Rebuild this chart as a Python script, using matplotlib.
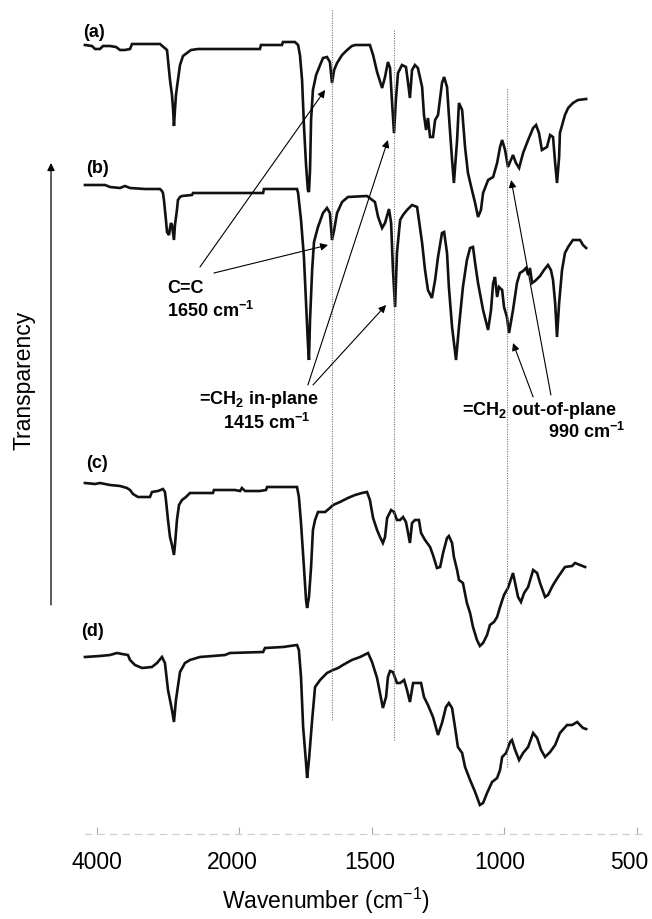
import numpy as np
import matplotlib
matplotlib.use("Agg")
import matplotlib.pyplot as plt
from matplotlib.transforms import ScaledTranslation

plt.rcParams['font.family'] = ['Liberation Sans', 'DejaVu Sans']
plt.rcParams['mathtext.default'] = 'regular'

# FTIR spectra: wavenumber (cm-1) and transmittance (%T), one pair per sample
wn_a = [4170, 4070, 4028, 3958, 3916, 3817, 3732, 3676, 3606, 3535, 3507, 3113, 3014, 2972, 2944, 2930, 2916,
        2902, 2888, 2860, 2831, 2789, 2733, 2676, 2578, 1921, 1917, 1838, 1834, 1789, 1777, 1770, 1762, 1755,
        1747, 1740, 1736, 1732, 1728, 1721, 1709, 1694, 1683, 1668, 1657, 1649, 1641, 1630, 1611, 1592, 1574,
        1562, 1506, 1494, 1479, 1460, 1449, 1438, 1430, 1423, 1415, 1408, 1400, 1385, 1370, 1362, 1355, 1347,
        1336, 1325, 1309, 1302, 1294, 1287, 1279, 1268, 1260, 1249, 1234, 1226, 1215, 1208, 1196, 1189, 1177,
        1170, 1158, 1147, 1136, 1121, 1109, 1098, 1087, 1079, 1060, 1041, 1026, 1015, 1007, 996, 985, 966, 955,
        943, 928, 909, 890, 879, 868, 857, 838, 826, 815, 807, 800, 792, 789, 770, 758, 740, 721, 690]
tr_a = [94.5, 94, 92.5, 92.5, 94, 94, 93.5, 92, 92, 92.5, 95, 95, 92, 77, 69.5, 63, 54, 62, 69.5, 77, 84.5, 89,
        90.5, 92, 92.5, 92.5, 94.5, 94.5, 96, 96, 94.5, 89.5, 77, 54.5, 34.5, 22, 21, 32, 57, 72, 79.5, 84.5, 88,
        88.5, 86, 75.5, 82, 85.5, 89.5, 92, 94, 94.5, 94.5, 89.5, 81, 73, 78.5, 86, 83, 67, 50.5, 67, 80.5, 84.5,
        83.5, 75.5, 68, 82, 84.5, 83, 73.5, 59.5, 52, 58, 48.5, 48.5, 57, 59.5, 75.5, 78.5, 73.5, 59.5, 37, 25.5,
        47, 65.5, 62, 43.5, 30.5, 22, 15.5, 8.5, 12, 20.5, 27, 28.5, 35.5, 43.5, 47, 42, 33.5, 39.5, 35.5, 33,
        40.5, 47, 53, 54.5, 50.5, 42, 43.5, 49.5, 48.5, 35.5, 25.5, 38.5, 50.5, 59.5, 63, 65.5, 67, 67.5]

wn_b = [4170, 3887, 3817, 3676, 3606, 3535, 3324, 3113, 3085, 3071, 3057, 3029, 3014, 2986, 2972, 2958, 2944,
        2916, 2902, 2874, 2860, 2831, 2803, 2662, 2648, 1909, 1906, 1781, 1777, 1766, 1755, 1747, 1740, 1736,
        1732, 1724, 1717, 1702, 1683, 1668, 1657, 1649, 1641, 1630, 1611, 1589, 1517, 1487, 1475, 1460, 1449,
        1434, 1426, 1419, 1411, 1404, 1392, 1381, 1366, 1347, 1328, 1321, 1309, 1298, 1287, 1272, 1260, 1249,
        1234, 1226, 1215, 1208, 1196, 1181, 1170, 1155, 1140, 1128, 1117, 1109, 1098, 1079, 1060, 1049, 1041,
        1034, 1026, 1019, 1007, 1000, 989, 981, 966, 951, 940, 928, 917, 909, 902, 894, 883, 864, 849, 834, 823,
        815, 807, 800, 792, 781, 770, 758, 740, 713, 702, 690]
tr_b = [99.5, 99.5, 98.5, 98, 99, 98, 97.5, 97.5, 96.5, 95.5, 92, 82, 76, 74.5, 78, 80.5, 79.5, 72, 79.5, 87, 92,
        93.5, 94, 94.5, 95.5, 95.5, 97.5, 97.5, 95.5, 82, 63.5, 40.5, 20.5, 12, 32, 57, 71, 78.5, 85.5, 88, 85.5,
        72, 77, 85.5, 91, 93.5, 94, 91, 83.5, 78, 80.5, 87.5, 80.5, 57, 38.5, 65.5, 82, 84.5, 87, 89.5, 88.5, 82,
        70.5, 57, 47, 43, 52, 63.5, 75.5, 76, 65.5, 48.5, 28.5, 12, 28.5, 48.5, 62, 68, 68.5, 60.5, 50.5, 37, 27,
        37, 50.5, 53.5, 43.5, 48.5, 47, 38.5, 33.5, 25.5, 37, 50.5, 55.5, 56.5, 58, 54.5, 58, 50.5, 51.5, 54, 57,
        59.5, 57, 52, 40.5, 23.5, 40.5, 57, 65.5, 68.5, 72, 72, 69.5, 68]

wn_c = [4170, 4028, 3958, 3817, 3676, 3578, 3535, 3493, 3423, 3254, 3226, 3141, 3071, 3043, 3029, 3000, 2972,
        2944, 2916, 2902, 2874, 2845, 2803, 2747, 2691, 2367, 2353, 2057, 1996, 1989, 1977, 1921, 1898, 1894,
        1781, 1774, 1766, 1755, 1747, 1743, 1736, 1728, 1721, 1713, 1702, 1675, 1657, 1645, 1619, 1589, 1562,
        1536, 1517, 1506, 1494, 1479, 1468, 1457, 1449, 1441, 1426, 1415, 1404, 1392, 1381, 1370, 1362, 1355,
        1347, 1336, 1321, 1313, 1298, 1279, 1268, 1253, 1241, 1230, 1215, 1208, 1196, 1189, 1177, 1170, 1155,
        1140, 1128, 1117, 1102, 1091, 1079, 1064, 1053, 1038, 1026, 1015, 1000, 985, 966, 958, 947, 936, 924,
        909, 890, 875, 864, 845, 834, 815, 796, 770, 743, 732, 713, 694]
tr_c = [95.5, 95, 95.5, 94.5, 94, 93, 92, 90, 88.5, 88.5, 91, 91.5, 92.5, 91, 87, 77, 68.5, 64.5, 59.5, 64.5, 77,
        84.5, 87, 88.5, 90.5, 90.5, 92, 92, 91.5, 93, 91.5, 91.5, 92, 93.5, 93.5, 88.5, 75.5, 53.5, 37, 33, 38.5,
        53.5, 72, 77, 81, 81, 83, 84.5, 86, 88, 89.5, 90.5, 91, 87, 78, 72, 68.5, 65.5, 68.5, 78, 82, 81, 77, 77,
        78.5, 76, 70.5, 65.5, 75.5, 77, 77, 70.5, 67, 63.5, 59.5, 53, 53.5, 60.5, 68, 69, 65.5, 58.5, 52, 47,
        45.5, 35.5, 30.5, 23.5, 17, 14, 15.5, 19.5, 24.5, 26, 28.5, 33.5, 39.5, 43, 50.5, 45.5, 38.5, 36, 40.5,
        43.5, 52, 50.5, 45.5, 38.5, 39.5, 44.5, 48.5, 53.5, 54, 55.5, 54.5, 53.5]

wn_d = [4170, 3958, 3817, 3718, 3648, 3564, 3535, 3465, 3366, 3226, 3155, 3085, 3043, 3000, 2972, 2944, 2916,
        2888, 2831, 2761, 2691, 2550, 2198, 2127, 1909, 1902, 1834, 1781, 1774, 1766, 1758, 1747, 1743, 1736,
        1724, 1713, 1694, 1668, 1645, 1626, 1608, 1574, 1543, 1513, 1498, 1479, 1468, 1457, 1445, 1438, 1430,
        1419, 1404, 1392, 1377, 1366, 1355, 1343, 1325, 1313, 1302, 1287, 1268, 1249, 1234, 1219, 1208, 1196,
        1185, 1174, 1158, 1147, 1128, 1109, 1091, 1079, 1064, 1045, 1026, 1015, 1007, 992, 977, 970, 958, 943,
        928, 909, 890, 875, 860, 845, 826, 807, 789, 762, 743, 724, 713, 702, 690]
tr_d = [83.5, 84, 84.5, 85.5, 85, 84.5, 82, 79.5, 78, 78.5, 80.5, 83.5, 80.5, 67, 62, 57, 51, 62, 76, 80.5, 82,
        83.5, 84.5, 85.5, 86, 88, 88.5, 89.5, 87, 73.5, 48.5, 30.5, 23, 32, 52, 68.5, 72, 75.5, 77, 78, 79.5, 82,
        83.5, 85.5, 81, 73, 65.5, 58, 63.5, 73.5, 76.5, 76, 70.5, 70.5, 72, 67, 61, 70.5, 70.5, 70.5, 63.5, 59.5,
        53.5, 44.5, 50.5, 58.5, 60.5, 58, 48.5, 38.5, 35.5, 28.5, 22, 16, 9.5, 10.5, 15.5, 21, 23, 27, 33.5, 35.5,
        41, 42, 37, 32, 35.5, 38.5, 45.5, 43, 37, 33.5, 36, 39.5, 45.5, 49.5, 49.5, 51, 49.5, 48, 47.5]

sample_labels = ["(a)", "(b)", "(c)", "(d)"]
offsets = [295, 220, 75, 0]          # vertical stacking of the four traces

tick_values = [4000, 2000, 1500, 1000, 500]
tick_labels = ["4000", "2000", "1500", "1000", "500"]
band_lines = [1650, 1415, 990]       # C=C, =CH2 in-plane, =CH2 out-of-plane

K_HIGH, K_LOW = 0.071, 0.265         # axis units per cm-1 above / below the 2000 cm-1 break


# split wavenumber axis: compressed above 2000 cm-1, expanded below.
# Works on negated position so the function stays increasing.
def forward(w):
    w = np.asarray(w, dtype=float)
    return np.where(w >= 2000, (w - 4000) * K_HIGH - 97, (w - 2000) * K_LOW - 239)


def inverse(v):
    v = np.asarray(v, dtype=float)
    return np.where(v <= -239, 2000 + (v + 239) / K_LOW, 4000 + (v + 97) / K_HIGH)


fig = plt.figure(figsize=(6.52, 9.19), dpi=100)
ax = fig.add_axes([0, 85 / 919, 1, 834 / 919])
ax.set_xscale('function', functions=(forward, inverse))
ax.set_xlim(float(inverse(0)), float(inverse(-652)))
ax.set_ylim(-5, 412)

for wn, tr, off in zip([wn_a, wn_b, wn_c, wn_d], [tr_a, tr_b, tr_c, tr_d], offsets):
    ax.plot(wn, np.asarray(tr) + off, color='#111111', lw=1.9, solid_joinstyle='miter')

# dotted guides through the vinyl bands
for w, (y0, y1) in zip(band_lines, [(52, 407), (42, 397), (28.5, 368)]):
    ax.plot([w, w], [y0, y1], color='#777777', lw=0.8, ls=(0, (1, 1.2)))

# sample labels
for lab, (x, y) in zip(sample_labels, [(4197, 396), (4155, 328), (4155, 180.5), (4225, 96)]):
    ax.text(x, y, lab, fontsize=13, fontweight='bold', ha='left', va='center')

arrow_kw = dict(arrowstyle='-|>', color='black', lw=0.8, mutation_scale=11, shrinkA=0, shrinkB=0)
# C=C 1650
ax.annotate('', xy=(1675, 367), xytext=(2550, 278.5), arrowprops=arrow_kw)
ax.annotate('', xy=(1664, 289.5), xytext=(2353, 275.5), arrowprops=arrow_kw)
# =CH2 in-plane 1415
ax.annotate('', xy=(1438, 342), xytext=(1740, 219.5), arrowprops=arrow_kw)
ax.annotate('', xy=(1445, 259.5), xytext=(1721, 219.5), arrowprops=arrow_kw)
# =CH2 out-of-plane 990
ax.annotate('', xy=(973, 322), xytext=(823, 214.5), arrowprops=arrow_kw)
ax.annotate('', xy=(966, 240.5), xytext=(890, 213.5), arrowprops=arrow_kw)

bold = dict(fontsize=13, fontweight='bold', va='center')
ax.text(3014, 268, 'C=C', ha='left', **bold)
ax.text(3014, 256.5, '1650 cm$^{-1}$', ha='left', **bold)
ax.text(1700, 212, '=CH$_2$ in-plane', ha='right', **bold)
ax.text(1732, 200.5, '1415 cm$^{-1}$', ha='right', **bold)
ax.text(1158, 207, '=CH$_2$ out-of-plane', ha='left', **bold)
ax.text(543, 196, '990 cm$^{-1}$', ha='right', **bold)

# axes styling: only a faint bottom axis line remains
for side in ['top', 'left', 'right']:
    ax.spines[side].set_visible(False)
ax.spines['bottom'].set_color('#cfcfcf')
ax.spines['bottom'].set_linestyle((0, (5, 5)))
ax.spines['bottom'].set_linewidth(0.9)
ax.spines['bottom'].set_bounds(4170, 480)
ax.set_yticks([])
ax.set_xticks(tick_values)
ax.set_xticklabels(tick_labels, fontsize=16.5)
ax.tick_params(axis='x', direction='in', length=5, color='#aaaaaa', pad=12)
for lbl, dx in zip(ax.get_xticklabels(), [0, -7, -2, -4, -7]):
    lbl.set_transform(lbl.get_transform() + ScaledTranslation(dx / 100, 0, fig.dpi_scale_trans))
ax.set_xlabel('Wavenumber (cm$^{-1}$)', fontsize=16.5, labelpad=9)

# vertical "Transparency" arrow on the left
fig.text(24 / 652, 1 - 380 / 919, 'Transparency', rotation=90, fontsize=16.5, ha='center', va='center')
fig.patches.append(matplotlib.patches.FancyArrowPatch(
    (51 / 652, 1 - 605 / 919), (51 / 652, 1 - 163 / 919), transform=fig.transFigure,
    arrowstyle='-|>', mutation_scale=11, lw=0.9, color='black', shrinkA=0, shrinkB=0))

fig.savefig('out.png', dpi=100)
